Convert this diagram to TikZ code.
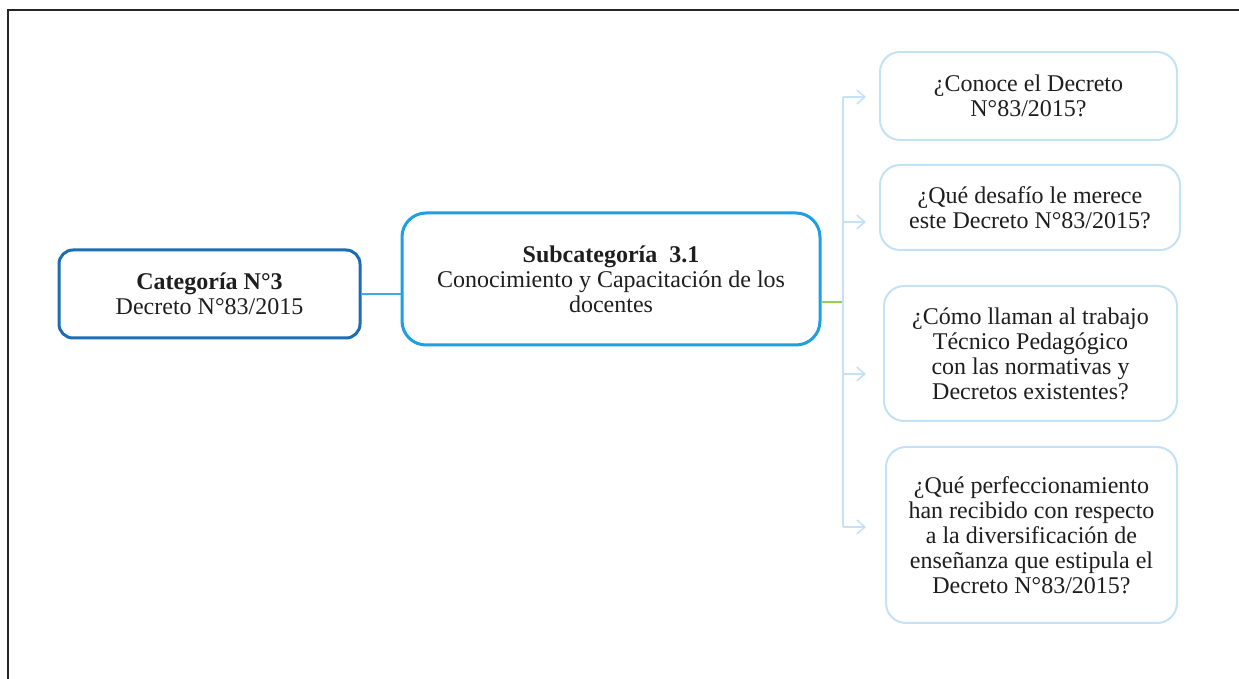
\documentclass[tikz,border=0pt]{standalone}
\usepackage{fontspec}
\setmainfont{Liberation Serif}
\usepackage{tikz}
\usetikzlibrary{arrows.meta}
\definecolor{azul}{RGB}{30,108,178}
\definecolor{celeste}{RGB}{28,160,226}
\definecolor{linea}{RGB}{58,174,228}
\definecolor{palido}{RGB}{196,225,245}
\definecolor{verde}{RGB}{146,208,80}
\definecolor{texto}{RGB}{30,30,30}

\begin{document}
\begin{tikzpicture}[x=0.5pt,y=-0.5pt,
  caja/.style={draw, rounded corners=7pt, line width=1.5pt, align=center,
    text=texto, font=\fontsize{12}{12.5}\selectfont, inner sep=2pt},
  pregunta/.style={caja, draw=palido, line width=1pt, rounded corners=10pt},
  flecha/.style={draw=palido, line width=0.8pt, -{Straight Barb[length=4pt,width=7pt]}}]
\useasboundingbox (0,0) rectangle (1239,679);
\draw[line width=1.3pt, color=black!85] (8,679) -- (8,10) -- (1239,10);

\node[caja, draw=azul, minimum width=150.5pt, minimum height=44pt] (cat) at (209.5,294)
  {\textbf{Categoría N°3}\\Decreto N°83/2015};
\node[caja, draw=celeste, rounded corners=12pt, minimum width=209pt, minimum height=66pt] (sub) at (611,279)
  {\textbf{Subcategoría\ \ 3.1}\\Conocimiento y Capacitación de los\\docentes};

\node[pregunta, minimum width=148.5pt, minimum height=44pt] (p1) at (1028.5,96)
  {¿Conoce el Decreto\\N°83/2015?};
\node[pregunta, minimum width=150pt, minimum height=42.5pt] (p2) at (1030,207.5)
  {¿Qué\ desafío le merece\\este Decreto N°83/2015?};
\node[pregunta, minimum width=146.5pt, minimum height=67.5pt] (p3) at (1030.5,353.5)
  {¿Cómo\ llaman\ al trabajo\\Técnico Pedagógico\\con las normativas y\\Decretos existentes?};
\node[pregunta, minimum width=145.5pt, minimum height=88pt] (p4) at (1031.5,535)
  {¿Qué perfeccionamiento\\han recibido con respecto\\a la\ diversificación de\\enseñanza que estipula el\\Decreto N°83/2015?};

\coordinate (tronco) at (843,302);
\coordinate (a1) at (866,97);
\coordinate (a2) at (866,222);
\coordinate (a3) at (866,374);
\coordinate (a4) at (866,527);

\draw[color=linea, line width=1pt] (cat) -- (cat -| sub.west);
\draw[color=verde, line width=0.8pt] (sub.east |- tronco) -- (tronco);
\draw[color=palido, line width=0.8pt] (tronco |- a1) -- (tronco |- a4);
\draw[flecha] (tronco |- a1) -- (a1);
\draw[flecha] (tronco |- a2) -- (a2);
\draw[flecha] (tronco |- a3) -- (a3);
\draw[flecha] (tronco |- a4) -- (a4);
\end{tikzpicture}
\end{document}
